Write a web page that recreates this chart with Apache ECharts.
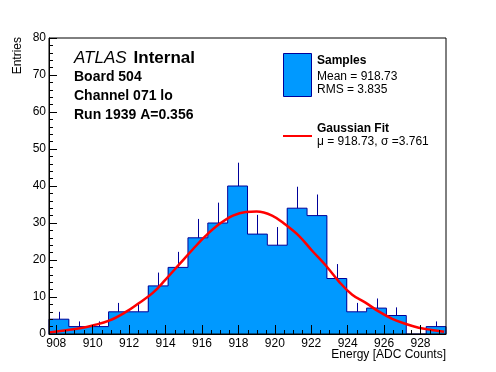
<!DOCTYPE html>
<html>
<head>
<meta charset="utf-8">
<script src="https://cdn.jsdelivr.net/npm/echarts@6/dist/echarts.min.js"></script>
<style>
html,body{margin:0;padding:0;background:#fff;}
#main{width:496px;height:372px;}
</style>
</head>
<body>
<div id="main"></div>
<script>
// ---- data ----
const xMin = 907.6;
const xMax = 929.4;
const binWidth = 1.09;
const counts = [4, 2, 2, 6, 6, 13, 18, 26, 30, 40, 27, 24, 34, 32, 15, 6, 7, 5, 0, 2];
const errUp  = [2, 1.4, 1.4, 2.4, 2.4, 3.6, 4.2, 5.1, 5.5, 6.3, 5.2, 4.9, 5.8, 5.7, 3.9, 2.4, 2.6, 2.2, 0, 1.4];
const fitX = [907.6, 908.55, 909.3, 910.0, 910.9, 911.8, 912.55, 913.3, 914.0, 914.75, 915.5, 916.2, 916.95, 917.7, 918.4, 919.0, 919.85, 920.6, 921.35, 922.05, 922.8, 923.5, 924.25, 925.0, 925.7, 926.45, 927.2, 927.9, 928.6, 929.3];
const fitY = [0.4, 1.0, 1.55, 2.3, 3.6, 5.9, 8.4, 11.1, 14.7, 18.8, 22.9, 26.5, 29.7, 32.0, 33.0, 33.1, 32.0, 29.5, 26.4, 22.5, 18.5, 14.3, 10.6, 8.4, 6.1, 4.1, 2.7, 1.7, 1.1, 0.6];
const xMajorTicks = [908, 910, 912, 914, 916, 918, 920, 922, 924, 926, 928];
const xMinorTicks = [908.5, 909, 909.5, 910.5, 911, 911.5, 912.5, 913, 913.5, 914.5, 915, 915.5, 916.5, 917, 917.5, 918.5, 919, 919.5, 920.5, 921, 921.5, 922.5, 923, 923.5, 924.5, 925, 925.5, 926.5, 927, 927.5, 928.5, 929];
const yMin = 0, yMax = 80, yInterval = 10;

const FONT = 'Liberation Sans, Arial, Helvetica, sans-serif';
const FILL = '#0099ff';
const EDGE = '#000099';

// step outline points
const outline = [[xMin, 0]];
counts.forEach((c, i) => {
  outline.push([xMin + i * binWidth, c]);
  outline.push([xMin + (i + 1) * binWidth, c]);
});
outline.push([xMax, 0]);

const chart = echarts.init(document.getElementById('main'), null, {renderer: 'canvas'});
chart.setOption({
  animation: false,
  backgroundColor: '#fff',
  textStyle: {fontFamily: FONT},
  grid: {left: 49, right: 50, top: 38, bottom: 38, show: true, borderColor: '#000', borderWidth: 1, backgroundColor: 'transparent', z: 10},
  xAxis: [{
    type: 'value', min: xMin, max: xMax, position: 'bottom',
    axisLine: {show: true, lineStyle: {color: '#000', width: 1}},
    axisTick: {show: true, inside: true, length: 9, customValues: xMajorTicks, lineStyle: {color: '#000'}},
    axisLabel: {show: true, customValues: xMajorTicks, color: '#000', fontSize: 12, fontFamily: FONT, margin: 4},
    splitLine: {show: false},
    z: 10
  }],
  yAxis: [{
    type: 'value', min: yMin, max: yMax, interval: yInterval,
    axisLine: {show: true, lineStyle: {color: '#000', width: 1}},
    axisTick: {show: true, inside: true, length: 8, lineStyle: {color: '#000'}},
    minorTick: {show: true, splitNumber: 5, length: 4, lineStyle: {color: '#000'}},
    axisLabel: {color: '#000', fontSize: 12, fontFamily: FONT, margin: 3},
    splitLine: {show: false},
    z: 10
  }],
  series: [{
    type: 'custom',
    name: 'fill',
    data: counts.map((c, i) => [i, c]),
    renderItem: function (params, api) {
      const i = api.value(0), c = api.value(1);
      const p0 = api.coord([xMin + i * binWidth, c]);
      const p1 = api.coord([xMin + (i + 1) * binWidth, 0]);
      const x0 = Math.round(p0[0]), x1 = Math.round(p1[0]);
      return {type: 'rect', shape: {x: x0, y: p0[1], width: x1 - x0, height: p1[1] - p0[1]}, style: {fill: FILL}};
    },
    z: 1
  }, {
    type: 'line',
    name: 'outline',
    data: outline,
    symbol: 'none',
    lineStyle: {color: EDGE, width: 1},
    z: 2
  }, {
    type: 'custom',
    name: 'errors',
    data: counts.map((c, i) => [i, c, errUp[i]]),
    renderItem: function (params, api) {
      const i = api.value(0), c = api.value(1), e = api.value(2);
      if (c <= 0) return null;
      const xc = xMin + (i + 0.5) * binWidth;
      const a = api.coord([xc, c]);
      const b = api.coord([xc, c + e]);
      return {type: 'line', shape: {x1: Math.round(a[0]) + 0.5, y1: a[1], x2: Math.round(b[0]) + 0.5, y2: b[1]}, style: {stroke: EDGE, lineWidth: 1}};
    },
    z: 3
  }, {
    type: 'line',
    name: 'fit',
    data: fitX.map((x, i) => [x, fitY[i]]),
    symbol: 'none',
    smooth: 0.4,
    lineStyle: {color: '#ff0000', width: 2.5},
    z: 4
  }, {
    type: 'custom',
    name: 'minorTicksX',
    data: xMinorTicks.map(v => [v]),
    renderItem: function (params, api) {
      const p = api.coord([api.value(0), yMin]);
      const x = Math.round(p[0]) + 0.5;
      return {type: 'line', shape: {x1: x, y1: p[1], x2: x, y2: p[1] - 4}, style: {stroke: '#000', lineWidth: 1}};
    },
    z: 5
  }],
  graphic: [
    {type: 'text', x: 18, y: 37, rotation: Math.PI / 2, style: {text: 'Entries', font: '12px ' + FONT, fill: '#000', align: 'right', verticalAlign: 'middle'}},
    {type: 'text', x: 446, y: 355, style: {text: 'Energy [ADC Counts]', font: '12px ' + FONT, fill: '#000', align: 'right', verticalAlign: 'middle'}},
    {type: 'text', x: 74, y: 58, style: {text: '{a|ATLAS}{s| }{b|Internal}', verticalAlign: 'middle', align: 'left',
      rich: {a: {fontStyle: 'italic', fontSize: 17, fontFamily: FONT, color: '#000'},
             s: {fontSize: 17, width: 7, fontFamily: FONT},
             b: {fontWeight: 'bold', fontSize: 17, fontFamily: FONT, color: '#000'}}}},
    {type: 'text', x: 74, y: 77, style: {text: 'Board 504', font: 'bold 14px ' + FONT, fill: '#000', verticalAlign: 'middle'}},
    {type: 'text', x: 74, y: 96, style: {text: 'Channel 071 lo', font: 'bold 14px ' + FONT, fill: '#000', verticalAlign: 'middle'}},
    {type: 'text', x: 74, y: 115, style: {text: 'Run 1939 A=0.356', font: 'bold 14px ' + FONT, fill: '#000', verticalAlign: 'middle'}},
    {type: 'rect', shape: {x: 283.5, y: 53.5, width: 28, height: 43}, style: {fill: FILL, stroke: EDGE, lineWidth: 1}},
    {type: 'text', x: 317, y: 61, style: {text: 'Samples', font: 'bold 12px ' + FONT, fill: '#000', verticalAlign: 'middle'}},
    {type: 'text', x: 317, y: 77, style: {text: 'Mean = 918.73', font: '12px ' + FONT, fill: '#000', verticalAlign: 'middle'}},
    {type: 'text', x: 317, y: 90, style: {text: 'RMS = 3.835', font: '12px ' + FONT, fill: '#000', verticalAlign: 'middle'}},
    {type: 'line', shape: {x1: 283, y1: 136, x2: 312, y2: 136}, style: {stroke: '#ff0000', lineWidth: 2}},
    {type: 'text', x: 317, y: 129, style: {text: 'Gaussian Fit', font: 'bold 12px ' + FONT, fill: '#000', verticalAlign: 'middle'}},
    {type: 'text', x: 317, y: 142, style: {text: 'μ = 918.73, σ =3.761', font: '12px ' + FONT, fill: '#000', verticalAlign: 'middle'}}
  ]
});
</script>
</body>
</html>
